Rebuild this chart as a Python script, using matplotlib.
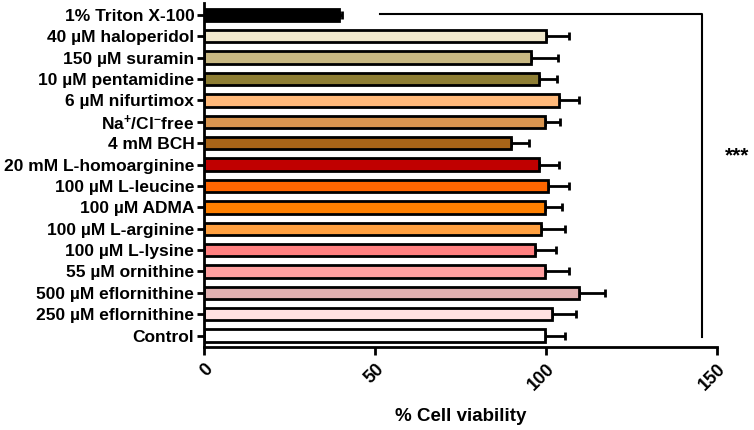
import numpy as np
import matplotlib.pyplot as plt

plt.rcParams['font.family'] = ['Liberation Sans', 'DejaVu Sans']
plt.rcParams['font.weight'] = 'bold'
plt.rcParams['mathtext.fontset'] = 'custom'
plt.rcParams['mathtext.rm'] = 'Liberation Sans:bold'
plt.rcParams['mathtext.bf'] = 'Liberation Sans:bold'
plt.rcParams['mathtext.default'] = 'bf'

# bottom to top
labels = ['Control', '250 µM eflornithine', '500 µM eflornithine', '55 µM ornithine',
          '100 µM L-lysine', '100 µM L-arginine', '100 µM ADMA', '100 µM L-leucine',
          '20 mM L-homoarginine', '4 mM BCH', 'Na$^{+}$/Cl$^{-}$free', '6 µM nifurtimox',
          '10 µM pentamidine', '150 µM suramin', '40 µM haloperidol', '1% Triton X-100']
viability = [99.7, 101.8, 109.7, 99.7, 96.7, 98.6, 99.7, 100.7,
             97.9, 89.7, 99.6, 103.8, 98.0, 95.6, 100.0, 39.6]
sem = [5.9, 7.1, 7.6, 7.0, 6.2, 7.0, 4.9, 5.9,
       5.8, 5.3, 4.4, 5.9, 5.3, 7.8, 6.7, 0.8]
colors = ['#FFFFFF', '#FFE0E0', '#E0B0B0', '#FFA0A0', '#FF8080', '#FFA040', '#FF8000',
          '#FF6600', '#C00000', '#A86418', '#D99550', '#FFB97A', '#8E7E34', '#C8B882',
          '#F0E8CC', '#000000']

fig = plt.figure(figsize=(7.54, 4.30), dpi=100)
ax = fig.add_axes([0.2706, 0.193, 0.951 - 0.2706, 0.80])

y = np.arange(len(labels))
ax.barh(y, viability, height=0.58, color=colors, edgecolor='black', linewidth=2, zorder=2)
ax.errorbar(viability, y, xerr=[np.zeros(len(sem)), sem], fmt='none', ecolor='black',
            elinewidth=2, capsize=3, capthick=2, zorder=1)

ax.set_xlim(0, 150)
ax.set_ylim(-0.53, 15.55)
ax.set_yticks(y)
ax.set_yticklabels(labels, fontsize=12.5, fontweight='bold')
ax.set_xticks([0, 50, 100, 150])
ax.set_xticklabels(['0', '50', '100', '150'], fontsize=13, fontweight='bold',
                   rotation=45, ha='right', va='top', rotation_mode='anchor')
ax.set_xlabel('% Cell viability', fontsize=13.5, fontweight='bold', labelpad=10)

for s in ['top', 'right']:
    ax.spines[s].set_visible(False)
for s in ['left', 'bottom']:
    ax.spines[s].set_linewidth(2)
ax.tick_params(axis='y', length=5, width=2, pad=2)
ax.tick_params(axis='x', length=6, width=2, pad=4)

# significance bracket
top = len(labels) - 1
ax.plot([51.5, 145.5, 145.5], [top + 0.05, top + 0.05, -0.05], color='black', lw=1.5,
        clip_on=False)
ax.text(155.8, 8.4, '***', fontsize=15, ha='center', va='center', clip_on=False)

fig.savefig('out.png', dpi=100)
